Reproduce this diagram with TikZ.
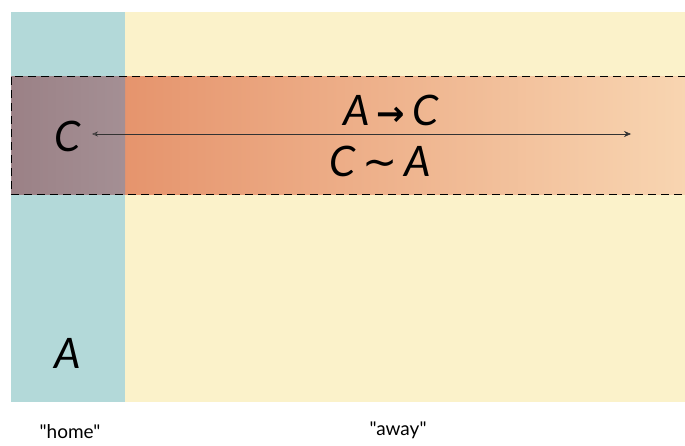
\documentclass[tikz,border=0pt]{standalone}
\usepackage{fontspec}
\setmainfont{Lato}
\newfontfamily\symfont{DejaVu Sans}
\newfontfamily\labfont{Lato}[Ligatures=TeXOff]
\usetikzlibrary{arrows.meta}
\definecolor{homecol}{HTML}{B3D9D9}
\definecolor{awaycol}{HTML}{FBF2CA}
\definecolor{bandL}{HTML}{E2875F}
\definecolor{bandR}{HTML}{F8D5B1}
\definecolor{overL}{HTML}{9B8186}
\definecolor{overR}{HTML}{A48F94}
\tikzset{
  big/.style={font=\fontsize{42}{46}\selectfont\itshape, inner sep=0pt},
  lab/.style={font=\labfont\fontsize{19}{22}\selectfont, inner sep=0pt},
  dash band/.style={draw=black, line width=1pt, dash pattern=on 8pt off 5pt},
  link/.style={draw=black!80, line width=0.6pt, {Stealth[length=6pt,width=5pt,open]}-{Stealth[length=7pt,width=6pt]}}
}
\begin{document}
\begin{tikzpicture}[x=1pt,y=-1pt]
\useasboundingbox (0,0) rectangle (685,445);
\fill[homecol] (11,12) rectangle (125,402);
\fill[awaycol] (125,12) rectangle (685,402);
\shade[left color=bandL, right color=bandR] (11,76) rectangle (686,194);
\shade[left color=overL, right color=overR] (11,76) rectangle (125,194);
\draw[dash band] (686,76) -- (11,76) -- (11,194) -- (686,194);
\node[big] (c) at (68,136) {C};
\node[big] (a) at (68,353) {A};
\node[big] (ac) at (391,110) {A\,{\symfont\fontsize{34}{34}\selectfont\upshape\bfseries →}\,C};
\node[big] (ca) at (380,161) {C\,{\symfont\upshape ∼}\,A};
\coordinate (l) at (92,134);
\coordinate (r) at (631,134);
\draw[link] (l) -- (r);
\node[lab] (home) at (70,432) {"home"};
\node[lab] (away) at (398,430) {"away"};
\end{tikzpicture}
\end{document}
